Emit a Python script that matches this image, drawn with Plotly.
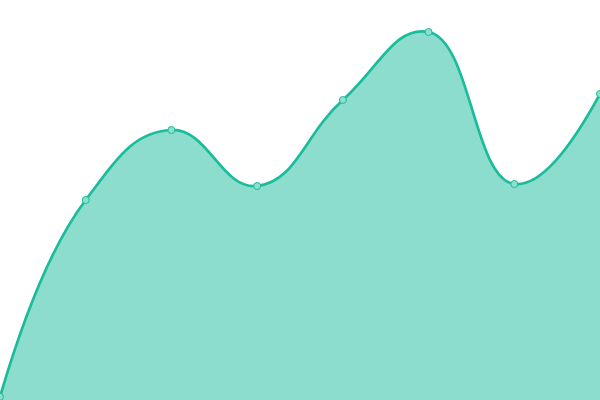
import plotly.graph_objects as go

x_vals = [0, 1, 2, 3, 4, 5, 6, 7]
y_vals = [0.8, 50, 67.5, 53.5, 75, 92, 54, 76.5]

LINE = "#1abc9c"
FILL = "rgba(26,188,156,0.5)"
MARK = "#8ddfce"

fig = go.Figure()
fig.add_trace(go.Scatter(
    x=x_vals, y=y_vals, mode="lines+markers",
    fill="tozeroy", fillcolor=FILL,
    line=dict(color=LINE, width=2.7, shape="spline", smoothing=1.3),
    marker=dict(size=7, color=MARK, line=dict(color=LINE, width=1)),
    hoverinfo="skip",
))
fig.update_layout(
    width=600, height=400,
    margin=dict(l=0, r=0, t=0, b=0),
    paper_bgcolor="white", plot_bgcolor="white",
    showlegend=False,
    xaxis=dict(range=[0, 7], visible=False, fixedrange=True),
    yaxis=dict(range=[0, 100], visible=False, fixedrange=True),
)
fig.write_html("out.html", config={"displayModeBar": False},
               post_script="document.body.style.margin='0';document.body.style.overflow='hidden';")
